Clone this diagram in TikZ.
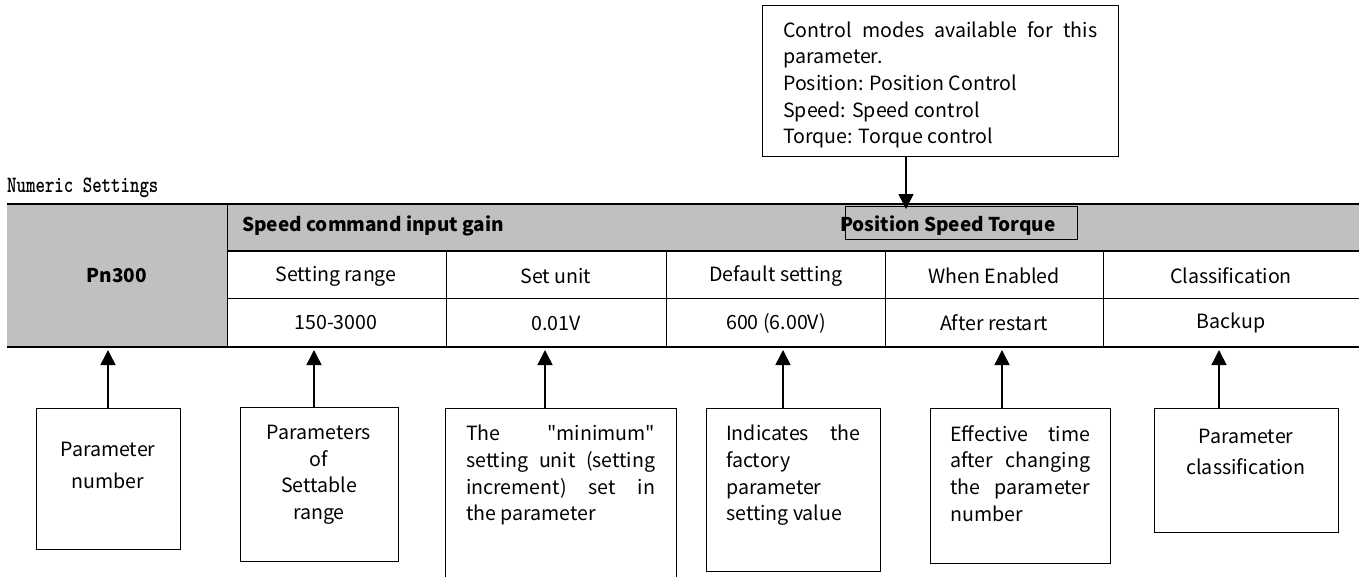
\documentclass[tikz,border=0pt]{standalone}
\usepackage{fontspec}
\usepackage{graphicx}
\setmainfont{Noto Sans CJK SC}[Ligatures=TeXOff]
\usetikzlibrary{arrows.meta}

\definecolor{tabgray}{RGB}{192,192,192}

\tikzset{
  txt/.style={inner sep=0pt, font=\fontsize{19.6}{26.7}\selectfont},
  headtxt/.style={inner sep=0pt, font=\fontsize{19}{26.7}\selectfont\bfseries},
  notebox/.style={draw, line width=1.4pt, anchor=north west, inner sep=0pt},
  note/.style={txt, anchor=north west, align=justify},
  cnote/.style={txt, anchor=north, align=center},
  pointer/.style={line width=1.5pt, -{Triangle[length=15pt,width=15pt]}},
  rule/.style={line width=1pt},
}

\begin{document}
\begin{tikzpicture}[x=1pt,y=-1pt]
  \clip (0,0) rectangle (1359,576);

  % parameter table
  \fill[tabgray] (7,204) rectangle (227,347);
  \fill[tabgray] (227,204) rectangle (1359,251);
  \draw[line width=2pt] (7,204) -- (1359,204);
  \draw[line width=2pt] (7,347) -- (1359,347);
  \draw[line width=1.6pt] (227,251) -- (1359,251);
  \draw[rule] (227,204) -- (227,347);
  \draw[rule] (227,298) -- (1359,298);
  \foreach \x in {446,666,885,1103}
    \draw[rule] (\x,251) -- (\x,347);

  \node[anchor=base west, inner sep=0pt, font=\fontsize{18}{20}\selectfont\ttfamily\bfseries] (title) at (7,192)
    {\scalebox{1}[1.3]{Numeric Settings}};
  \node[headtxt] (pn) at (117,276) {Pn300};
  \node[headtxt, anchor=west] (name) at (242,226) {Speed command input gain};
  \node[headtxt, anchor=west] (modes) at (840,226) {Position Speed Torque};
  \node[draw, line width=1.3pt, anchor=north west, inner sep=0pt,
        minimum width=232pt, minimum height=33pt] (modebox) at (845,206) {};

  \foreach \x/\a/\b [count=\i] in {336/Setting range/150-3000, 556/Set unit/0.01V,
      776/Default setting/600 (6.00V), 994/When Enabled/After restart,
      1231/Classification/Backup} {
    \node[txt] (c\i) at (\x,276) {\a};
    \node[txt] (v\i) at (\x,323) {\b};
  }

  % control mode note
  \node[notebox, minimum width=356pt, minimum height=151pt] (ctl) at (762,5) {};
  \node[note, text width=314pt] (ctltxt) at (783,21)
    {Control modes available for this\linebreak parameter.\\Position: Position Control\\Speed: Speed control\\Torque: Torque control};
  \coordinate (pst) at (906,209);
  \draw[pointer] (ctl.south -| pst) -- (pst);

  % notes under the table
  \node[notebox, minimum width=144pt, minimum height=141pt] (b1) at (36,408) {};
  \node[cnote, font=\fontsize{19.6}{32}\selectfont] (n1) at (108,442) {Parameter\\number};
  \node[notebox, minimum width=158pt, minimum height=154pt] (b2) at (240,407) {};
  \node[cnote] (n2) at (319,425) {Parameters\\of\\Settable\\range};
  \node[notebox, minimum width=231pt, minimum height=185pt] (b3) at (445,408) {};
  \node[note, text width=189pt] (n3) at (466,425)
    {The "minimum"\linebreak setting unit (setting\linebreak increment) set in\linebreak the parameter};
  \node[notebox, minimum width=174pt, minimum height=163pt] (b4) at (706,408) {};
  \node[note, text width=134pt] (n4) at (726,425)
    {Indicates the\linebreak factory\linebreak parameter\linebreak setting value};
  \node[notebox, minimum width=180pt, minimum height=155pt] (b5) at (930,408) {};
  \node[note, text width=140pt] (n5) at (950,425)
    {Effective time\linebreak after changing\linebreak the parameter\linebreak number};
  \node[notebox, minimum width=184pt, minimum height=124pt] (b6) at (1154,408) {};
  \node[cnote, font=\fontsize{19.6}{31}\selectfont] (n6) at (1246,429) {Parameter\\classification};

  \foreach \i/\x in {1/108,2/314,3/545,4/783,5/1002,6/1219} {
    \coordinate (t\i) at (\x,350);
    \draw[pointer] (b\i.north -| t\i) -- (t\i);
  }
\end{tikzpicture}
\end{document}
